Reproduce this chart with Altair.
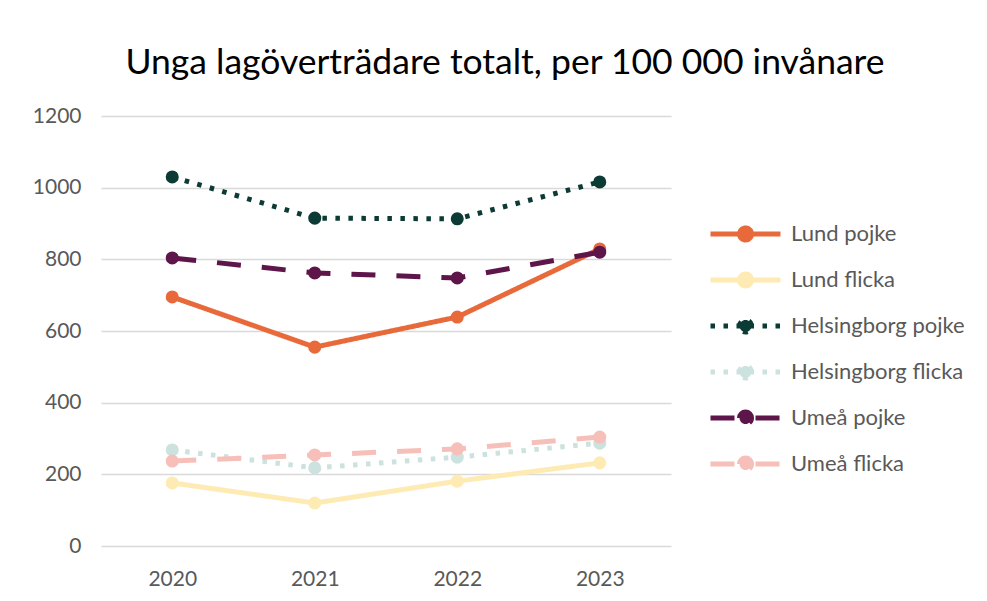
import altair as alt
import pandas as pd

years = ["2020", "2021", "2022", "2023"]
series = ["Lund pojke", "Lund flicka", "Helsingborg pojke", "Helsingborg flicka", "Umeå pojke", "Umeå flicka"]
lund_pojke = [695, 555, 639, 829]
lund_flicka = [176, 120, 181, 232]
hbg_pojke = [1030, 915, 913, 1016]
hbg_flicka = [268, 218, 248, 287]
umea_pojke = [804, 762, 748, 820]
umea_flicka = [237, 254, 271, 304]
colors = ["#E8693A", "#FEEBB4", "#0C3B36", "#CCE2DF", "#5E1549", "#F6BFBA"]
dashes = [[1, 0], [1, 0], [4.5, 8.5], [4.5, 8.5], [24, 21], [24, 21]]

values = [lund_pojke, lund_flicka, hbg_pojke, hbg_flicka, umea_pojke, umea_flicka]
rows = []
for si, (s, vals) in enumerate(zip(series, values)):
    for y, v in zip(years, vals):
        rows.append({"year": y, "series": s, "value": v, "order": si})
df = pd.DataFrame(rows)

FONT = "Lato"
color_scale = alt.Scale(domain=series, range=colors)
dash_scale = alt.Scale(domain=series, range=dashes)

x = alt.X("year:O", title=None,
          axis=alt.Axis(labelAngle=0, labelFontSize=21, labelColor="#595959", labelFont=FONT,
                        ticks=False, domain=False, labelPadding=22, grid=False))
y = alt.Y("value:Q", title=None,
          scale=alt.Scale(domain=[0, 1200]),
          axis=alt.Axis(values=[0, 200, 400, 600, 800, 1000, 1200], format="d", labelFontSize=21,
                        labelColor="#595959", labelFont=FONT, ticks=False, domain=False,
                        labelPadding=20, gridColor="#d9d9d9", gridWidth=1.5))

symbol_path = "M-1,0H8.33M2.87,0A0.8,0.8 0 1,1 4.47,0A0.8,0.8 0 1,1 2.87,0Z"

leg = alt.Legend(title=None, orient="none", legendX=606, legendY=107,
                 symbolType=symbol_path, symbolSize=225,
                 symbolStrokeWidth=5, labelFontSize=22, labelLimit=300,
                 labelColor="#595959", labelFont=FONT,
                 labelOffset=62, rowPadding=12, symbolOpacity=1, padding=0)

lines = alt.Chart(df).mark_line(strokeWidth=5, strokeJoin="round").encode(
    x=x, y=y,
    color=alt.Color("series:N", scale=color_scale, sort=series, legend=leg),
    strokeDash=alt.StrokeDash("series:N", scale=dash_scale, sort=series, legend=leg),
    detail="series:N",
)

points = alt.Chart(df).mark_point(filled=True, size=170, opacity=1, strokeWidth=0.01).encode(
    x=x, y=y,
    color=alt.Color("series:N", scale=color_scale, sort=series, legend=leg),
    stroke=alt.Stroke("series:N", scale=color_scale, sort=series, legend=leg),
    strokeDash=alt.StrokeDash("series:N", scale=dash_scale, sort=series, legend=leg),
)

chart = alt.layer(lines, points).properties(
    width=570, height=430,
    title=alt.Title("Unga lagöverträdare totalt, per 100 000 invånare", fontSize=35.5,
                    font=FONT, fontWeight="normal", color="#000000", anchor="middle",
                    frame="group", dx=119, offset=24),
    padding={"left": 24, "top": 37, "right": 10, "bottom": 10},
).configure_view(stroke=None)

chart.save("out.html", embed_options={"renderer": "svg", "actions": False})
